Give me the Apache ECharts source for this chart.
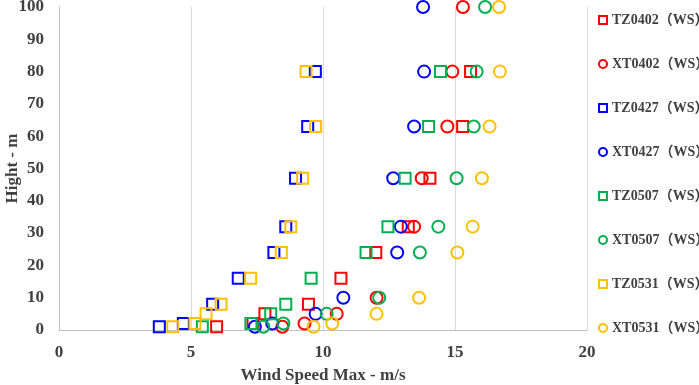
<!DOCTYPE html>
<html>
<head>
<meta charset="utf-8">
<script src="https://cdn.jsdelivr.net/npm/echarts@6/dist/echarts.min.js"></script>
<style>
  html, body { margin: 0; padding: 0; background: #fff; }
  #chart { width: 699px; height: 385px; }
</style>
</head>
<body>
<div id="chart"></div>
<script>
// heights (m) and max wind speed (m/s)
const tz0402Height = [1, 2, 5, 8, 16, 24, 32, 47, 63, 80]
const tz0402Speed = [5.97, 7.35, 7.8, 9.45, 10.68, 12.0, 13.23, 14.05, 15.29, 15.59]
const xt0402Height = [1, 2, 5, 10, 32, 47, 63, 80, 100]
const xt0402Speed = [8.46, 9.3, 10.52, 12.03, 13.45, 13.74, 14.71, 14.9, 15.3]

const tz0427Height = [1, 2, 8, 16, 24, 32, 47, 63, 80]
const tz0427Speed = [3.8, 4.71, 5.82, 6.79, 8.14, 8.59, 8.96, 9.42, 9.71]
const xt0427Height = [1, 2, 5, 10, 24, 32, 47, 63, 80, 100]
const xt0427Speed = [7.42, 8.08, 9.72, 10.77, 12.81, 12.95, 12.66, 13.45, 13.83, 13.79]

const tz0507Height = [1, 2, 5, 8, 16, 24, 32, 47, 63, 80]
const tz0507Speed = [5.43, 7.27, 8.02, 8.59, 9.55, 11.63, 12.46, 13.11, 14.0, 14.45]
const xt0507Height = [1, 2, 5, 10, 24, 32, 47, 63, 80, 100]
const xt0507Speed = [7.74, 8.5, 10.14, 12.13, 13.67, 14.37, 15.06, 15.71, 15.82, 16.14]

const tz0531Height = [1, 2, 5, 8, 16, 24, 32, 47, 63, 80]
const tz0531Speed = [4.31, 5.15, 5.57, 6.14, 7.26, 8.42, 8.78, 9.23, 9.72, 9.36]
const xt0531Height = [1, 2, 5, 10, 24, 32, 47, 63, 80, 100]
const xt0531Speed = [9.64, 10.35, 12.03, 13.64, 15.09, 15.67, 16.02, 16.31, 16.7, 16.67]

const seriesNames = ['TZ0402（WS）', 'XT0402（WS）', 'TZ0427（WS）', 'XT0427（WS）',
  'TZ0507（WS）', 'XT0507（WS）', 'TZ0531（WS）', 'XT0531（WS）']

const RED = '#ff0000', BLUE = '#0000ff', GREEN = '#00b050', ORANGE = '#ffc000'
const SERIF = "'Liberation Serif', 'Times New Roman', 'Noto Sans CJK SC', serif"

function pts(speed, height) {
  return speed.map((s, i) => [s, height[i]])
}

function makeSeries(name, data, color, isSquare) {
  return {
    name,
    type: 'scatter',
    data,
    symbol: isSquare ? 'rect' : 'circle',
    symbolSize: isSquare ? 11 : 12,
    itemStyle: {
      color: 'rgba(255,255,255,0)',
      borderColor: color,
      borderWidth: 2,
      opacity: 1,
    },
    emphasis: { disabled: true },
  }
}

const chart = echarts.init(document.getElementById('chart'))

chart.setOption({
  animation: false,
  backgroundColor: '#fff',
  grid: { left: 59, right: 112, top: 7, bottom: 55, outerBoundsMode: 'none', containLabel: false },
  legend: {
    orient: 'vertical',
    left: 593,
    top: 8,
    itemWidth: 8,
    itemHeight: 8,
    itemGap: 30,
    textStyle: {
      fontFamily: SERIF,
      fontWeight: 'bold',
      fontSize: 14,
      color: '#404040',
      lineHeight: 14,
    },
    data: seriesNames.map((n, i) => ({
      name: n,
      icon: i % 2 === 0 ? 'rect' : 'circle',
      itemStyle: { color: 'rgba(255,255,255,0)', borderWidth: 2 },
    })),
  },
  xAxis: {
    type: 'value',
    min: 0,
    max: 20,
    interval: 5,
    name: 'Wind Speed Max - m/s',
    nameLocation: 'middle',
    nameGap: 37,
    nameMoveOverlap: false,
    nameTextStyle: { fontFamily: SERIF, fontWeight: 'bold', fontSize: 17, color: '#404040' },
    axisLine: { show: true, lineStyle: { color: '#bfbfbf', width: 1 } },
    axisTick: { show: false },
    axisLabel: { fontFamily: SERIF, fontWeight: 'bold', fontSize: 17, color: '#404040', margin: 14 },
    splitLine: { show: true, lineStyle: { color: '#d9d9d9', width: 1 } },
  },
  yAxis: {
    type: 'value',
    min: 0,
    max: 100,
    interval: 10,
    name: 'Hight - m',
    nameLocation: 'middle',
    nameGap: 38,
    nameMoveOverlap: false,
    nameTextStyle: { fontFamily: SERIF, fontWeight: 'bold', fontSize: 17, color: '#404040' },
    axisLine: { show: true, lineStyle: { color: '#bfbfbf', width: 1 } },
    axisTick: { show: false },
    axisLabel: { fontFamily: SERIF, fontWeight: 'bold', fontSize: 17, color: '#404040', margin: 15 },
    splitLine: { show: false },
  },
  series: [
    makeSeries(seriesNames[0], pts(tz0402Speed, tz0402Height), RED, true),
    makeSeries(seriesNames[1], pts(xt0402Speed, xt0402Height), RED, false),
    makeSeries(seriesNames[2], pts(tz0427Speed, tz0427Height), BLUE, true),
    makeSeries(seriesNames[3], pts(xt0427Speed, xt0427Height), BLUE, false),
    makeSeries(seriesNames[4], pts(tz0507Speed, tz0507Height), GREEN, true),
    makeSeries(seriesNames[5], pts(xt0507Speed, xt0507Height), GREEN, false),
    makeSeries(seriesNames[6], pts(tz0531Speed, tz0531Height), ORANGE, true),
    makeSeries(seriesNames[7], pts(xt0531Speed, xt0531Height), ORANGE, false),
  ],
})
</script>
</body>
</html>
